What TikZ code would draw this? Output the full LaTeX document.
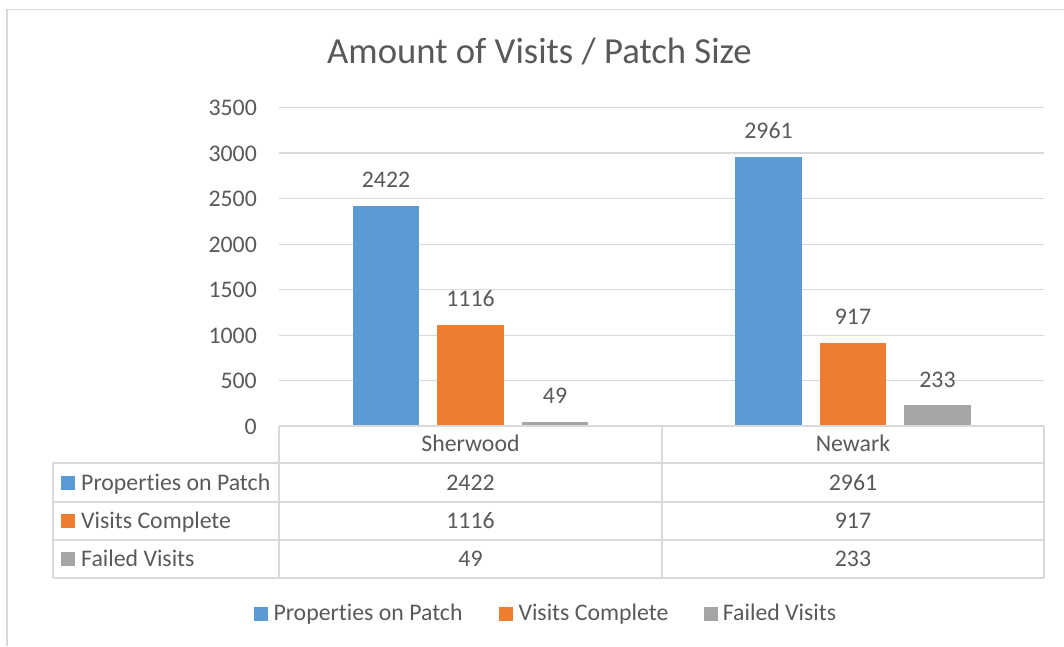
\documentclass[tikz,border=0pt]{standalone}
\usepackage{fontspec}
\setmainfont[Ligatures=NoCommon]{Carlito}
\definecolor{txt}{HTML}{595959}
\definecolor{gridc}{HTML}{D9D9D9}
\definecolor{sblue}{HTML}{5B9BD5}
\definecolor{sorange}{HTML}{ED7D31}
\definecolor{sgray}{HTML}{A5A5A5}
\begin{document}
\begin{tikzpicture}[x=1pt,y=-1pt,
  lbl/.style={text=txt, inner sep=0pt, font=\fontsize{23.8}{28}\selectfont},
  ttl/.style={text=txt, inner sep=0pt, font=\fontsize{36.7}{42}\selectfont},
  gridline/.style={draw=gridc, line width=1.4pt},
  tblline/.style={draw=gridc, line width=1.8pt},
  framel/.style={draw=gridc, line width=1.4pt},
  keybox/.style={minimum size=14pt, inner sep=0pt, anchor=south west}]
\useasboundingbox (0,0) rectangle (1064,646);
% outer frame
\draw[framel] (7,646) -- (7,9.3) -- (1064,9.3);
% title
\node[ttl, anchor=base] (title) at (539.5,63) {Amount of Visits / Patch Size};
% value grid and axis labels (45.5 units per 500)
\foreach \v in {500,1000,...,3500}
  \draw[gridline] (279,{426.2-\v*0.091}) -- (1044,{426.2-\v*0.091});
\foreach \v in {0,500,1000,...,3500}
  \node[lbl, anchor=base east] (y\v) at (257,{426.2-\v*0.091+8}) {\v};
% bars and data labels
\foreach \cx/\a/\b/\c/\nm in {470.5/2422/1116/49/s, 853/2961/917/233/n}{
  \fill[sblue]   ({\cx-84.5-33.3},426.2) rectangle ({\cx-84.5+33.3},{426.2-\a*0.091});
  \fill[sorange] ({\cx-33.3},426.2) rectangle ({\cx+33.3},{426.2-\b*0.091});
  \fill[sgray]   ({\cx+84.5-33.3},426.2) rectangle ({\cx+84.5+33.3},{426.2-\c*0.091});
  \node[lbl, anchor=base] (\nm a) at ({\cx-84.5},{426.2-\a*0.091-18}) {\a};
  \node[lbl, anchor=base] (\nm b) at ({\cx},{426.2-\b*0.091-18}) {\b};
  \node[lbl, anchor=base] (\nm c) at ({\cx+84.5},{426.2-\c*0.091-18}) {\c};
}
% data table
\draw[tblline] (279,426.2) -- (1044,426.2);
\foreach \yy in {463,501.7,540,578.3}
  \draw[tblline] (52.7,\yy) -- (1044,\yy);
\draw[tblline] (52.7,463) -- (52.7,578.3);
\foreach \xx in {279,661.7,1044}
  \draw[tblline] (\xx,426.2) -- (\xx,578.3);
\node[lbl, anchor=base] (cs) at (470.5,451.7) {Sherwood};
\node[lbl, anchor=base] (cn) at (853,451.7) {Newark};
\foreach \yb/\nm/\col/\lab/\vs/\vn in {490/p/sblue/Properties on Patch/2422/2961,
                                       528.4/v/sorange/Visits Complete/1116/917,
                                       566.4/f/sgray/Failed Visits/49/233}{
  \node[keybox, fill=\col] (k\nm) at (61,\yb) {};
  \node[lbl, anchor=base west] (r\nm) at (81,\yb) {\lab};
  \node[lbl, anchor=base] (ts\nm) at (470.5,\yb) {\vs};
  \node[lbl, anchor=base] (tn\nm) at (853,\yb) {\vn};
}
% legend
\node[keybox, fill=sblue] (lk1) at (253.3,620.7) {};
\node[lbl, anchor=base west] (lt1) at (273.3,620.7) {Properties on Patch};
\node[keybox, fill=sorange] (lk2) at (498.3,620.7) {};
\node[lbl, anchor=base west] (lt2) at (518.3,620.7) {Visits Complete};
\node[keybox, fill=sgray] (lk3) at (703.3,620.7) {};
\node[lbl, anchor=base west] (lt3) at (722.7,620.7) {Failed Visits};
\end{tikzpicture}
\end{document}
